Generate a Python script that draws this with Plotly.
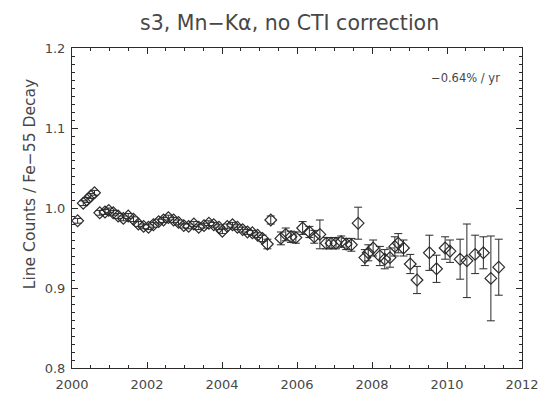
import plotly.graph_objects as go

years = [2000.15, 2000.30, 2000.40, 2000.50, 2000.60, 2000.74, 2000.88, 2000.98, 2001.10, 2001.23,
         2001.37, 2001.50, 2001.64, 2001.77, 2001.91, 2002.04, 2002.17, 2002.31, 2002.44, 2002.57,
         2002.71, 2002.84, 2002.98, 2003.11, 2003.25, 2003.38, 2003.52, 2003.65, 2003.78, 2003.92,
         2004.01, 2004.14, 2004.28, 2004.41, 2004.55, 2004.68, 2004.81, 2004.95, 2005.08, 2005.21,
         2005.30, 2005.57, 2005.70, 2005.84, 2005.97, 2006.15, 2006.33, 2006.46, 2006.61, 2006.78,
         2006.91, 2007.04, 2007.18, 2007.31, 2007.45, 2007.63, 2007.81, 2007.90, 2008.03, 2008.21,
         2008.34, 2008.48, 2008.61, 2008.70, 2008.84, 2009.02, 2009.20, 2009.53, 2009.72, 2009.95,
         2010.08, 2010.35, 2010.53, 2010.75, 2010.97, 2011.17, 2011.38]

ratio = [0.984, 1.006, 1.010, 1.015, 1.019, 0.994, 0.995, 0.997, 0.994, 0.990,
         0.987, 0.990, 0.986, 0.980, 0.977, 0.976, 0.979, 0.983, 0.985, 0.988,
         0.985, 0.982, 0.978, 0.977, 0.980, 0.976, 0.978, 0.981, 0.979, 0.976,
         0.971, 0.977, 0.979, 0.976, 0.973, 0.970, 0.969, 0.966, 0.962, 0.955,
         0.985, 0.962, 0.967, 0.964, 0.963, 0.975, 0.970, 0.964, 0.967, 0.956,
         0.956, 0.956, 0.958, 0.955, 0.954, 0.981, 0.938, 0.944, 0.950, 0.940,
         0.936, 0.938, 0.952, 0.956, 0.950, 0.930, 0.910, 0.944, 0.924, 0.950,
         0.946, 0.936, 0.934, 0.942, 0.944, 0.912, 0.926]

ratio_err = [0.003, 0.003, 0.003, 0.003, 0.003, 0.003, 0.003, 0.003, 0.003, 0.003,
             0.003, 0.003, 0.003, 0.003, 0.003, 0.003, 0.003, 0.003, 0.003, 0.003,
             0.003, 0.003, 0.003, 0.003, 0.003, 0.003, 0.003, 0.003, 0.003, 0.003,
             0.003, 0.003, 0.003, 0.003, 0.003, 0.003, 0.003, 0.003, 0.004, 0.006,
             0.005, 0.008, 0.008, 0.007, 0.007, 0.008, 0.007, 0.008, 0.018, 0.007,
             0.007, 0.007, 0.007, 0.007, 0.008, 0.020, 0.010, 0.010, 0.010, 0.012,
             0.012, 0.012, 0.012, 0.012, 0.010, 0.012, 0.017, 0.022, 0.017, 0.014,
             0.014, 0.025, 0.046, 0.024, 0.020, 0.053, 0.035]

title_text = "s3, Mn\u2212K\u03b1, no CTI correction"
slope_text = "\u22120.64% / yr"
y_title = "Line Counts / Fe\u221255 Decay"

ink = "#2b2b2b"
text_ink = "#474747"
font_family = "DejaVu Sans, Liberation Sans, sans-serif"

fig = go.Figure()
fig.add_trace(go.Scatter(
    x=years, y=ratio, mode="markers",
    marker=dict(symbol="diamond-open", size=9, color=ink, line=dict(width=1.2, color=ink)),
    error_y=dict(type="data", array=ratio_err, visible=True, color=ink, thickness=1, width=4),
    showlegend=False,
))

axis_common = dict(
    showline=True, linecolor=ink, linewidth=1, mirror="allticks",
    ticks="inside", tickcolor=ink, showgrid=False, zeroline=False,
    tickfont=dict(family=font_family, size=13, color=text_ink),
)

fig.update_xaxes(range=[2000, 2012], tick0=2000, dtick=2, ticklen=6, ticklabelstandoff=4,
                 minor=dict(dtick=0.5, ticks="inside", ticklen=3, tickcolor=ink, showgrid=False),
                 **axis_common)
fig.update_yaxes(range=[0.8, 1.2], tick0=0.8, dtick=0.1, ticklen=6, tickformat=".1f",
                 ticklabelstandoff=3,
                 minor=dict(dtick=0.01, ticks="inside", ticklen=3, tickcolor=ink, showgrid=False),
                 **axis_common)

fig.update_layout(
    width=550, height=402,
    margin=dict(l=64, r=36, t=40, b=42),
    paper_bgcolor="white", plot_bgcolor="white",
    title=dict(text=title_text, x=0.512, xanchor="center", y=0.962, yanchor="middle",
               font=dict(family=font_family, size=20.5, color=text_ink)),
    annotations=[
        dict(text=slope_text, xref="paper", yref="paper", x=0.955, y=0.905,
             xanchor="right", yanchor="middle", showarrow=False,
             font=dict(family=font_family, size=11.5, color=text_ink)),
        dict(text=y_title, xref="paper", yref="paper", x=-0.093, y=0.575,
             xanchor="center", yanchor="middle", textangle=-90, showarrow=False,
             font=dict(family=font_family, size=15.5, color=text_ink)),
    ],
)

fig.write_html("out.html")
